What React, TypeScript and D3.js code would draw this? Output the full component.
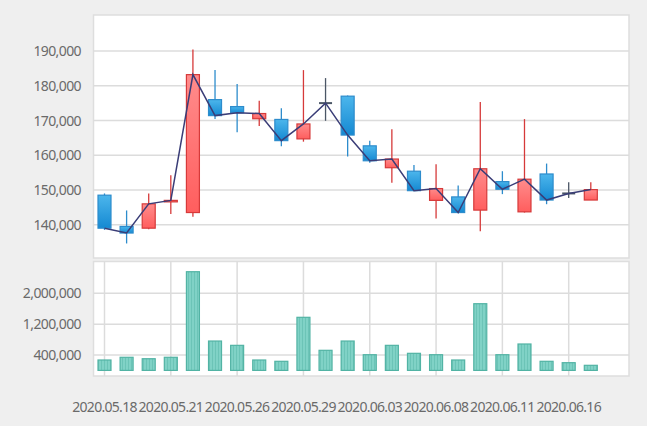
import React from "react";
import * as d3 from "d3";

const dates = [
  "2020.05.18", "2020.05.19", "2020.05.20", "2020.05.21", "2020.05.22",
  "2020.05.25", "2020.05.26", "2020.05.27", "2020.05.28", "2020.05.29",
  "2020.06.01", "2020.06.02", "2020.06.03", "2020.06.04", "2020.06.05",
  "2020.06.08", "2020.06.09", "2020.06.10", "2020.06.11", "2020.06.12",
  "2020.06.15", "2020.06.16", "2020.06.17",
];
const openPrices = [148500, 139500, 139000, 146800, 143500, 176000, 174000, 170500, 170300, 164700, 175000, 177000, 162700, 156400, 155400, 147000, 148000, 144200, 152400, 143700, 154600, 149000, 147100];
const closePrices = [139000, 137600, 146000, 147000, 183200, 171400, 172200, 172000, 164200, 169000, 175000, 165800, 158400, 158900, 149800, 150400, 143500, 156100, 150200, 153100, 147100, 149000, 150100];
const highPrices = [149000, 144100, 149000, 154200, 190400, 184500, 180500, 175700, 173500, 184500, 182200, 177200, 164200, 167500, 157200, 157400, 151300, 175300, 155400, 170400, 157600, 152200, 152200];
const lowPrices = [138500, 134600, 138700, 143100, 142300, 170400, 166600, 168400, 162600, 163900, 169900, 159600, 157800, 152100, 149800, 141800, 143300, 138100, 148800, 143500, 145900, 147700, 147100];
const volumes = [270000, 340000, 303000, 340000, 2560000, 762000, 650000, 270000, 236000, 1377000, 521000, 762000, 407000, 650000, 443000, 407000, 270000, 1730000, 407000, 685000, 236000, 200000, 132000];

const priceTicks = [140000, 150000, 160000, 170000, 180000, 190000];
const volumeTicks = [400000, 1200000, 2000000];
const labelEvery = 3;

const W = 647;
const H = 426;
const panelL = 93.5;
const panelR = 629;
const topPanel = { y0: 15, y1: 258 };
const botPanel = { y0: 261.5, y1: 376 };

const FONT = "'Noto Sans', sans-serif";
const TEXT = "#6a6a6a";
const GRID = "#dcdcdc";

export default function App() {
  const x = d3.scaleLinear().domain([0, 21]).range([104.5, 568.7]);
  const y = d3.scaleLinear().domain([140000, 190000]).range([224.7, 51]);
  const yv = d3.scaleLinear().domain([0, 2000000]).range([370.4, 293.3]);
  const fmt = d3.format(",");
  const cw = 13;
  const bw = 13;

  const line = d3
    .line<number>()
    .x((_, i) => x(i))
    .y((d) => y(d));

  const labelIdx = dates.map((_, i) => i).filter((i) => i % labelEvery === 0);

  return (
    <svg
      width={W}
      height={H}
      style={{ position: "absolute", left: 0, top: 0, display: "block" }}
    >
      <defs>
        <linearGradient id="gRed" x1="0" y1="0" x2="0" y2="1">
          <stop offset="0" stopColor="#ff8c8c" />
          <stop offset="1" stopColor="#ff5e5e" />
        </linearGradient>
        <linearGradient id="gBlue" x1="0" y1="0" x2="0" y2="1">
          <stop offset="0" stopColor="#4cb6ec" />
          <stop offset="1" stopColor="#1589d2" />
        </linearGradient>
        <pattern id="stripe" width="3" height="4" patternUnits="userSpaceOnUse">
          <rect width="3" height="4" fill="#80d2c6" />
          <rect x="2" width="1" height="4" fill="#6cc4b7" />
        </pattern>
      </defs>
      <rect x={0} y={0} width={W} height={H} fill="#efefef" />

      {/* panels */}
      <rect
        x={panelL}
        y={topPanel.y0}
        width={panelR - panelL}
        height={topPanel.y1 - topPanel.y0}
        fill="#fff"
        stroke="#dedede"
        strokeWidth={1.5}
      />
      <rect
        x={panelL}
        y={botPanel.y0}
        width={panelR - panelL}
        height={botPanel.y1 - botPanel.y0}
        fill="#fff"
        stroke="#dedede"
        strokeWidth={1.5}
      />

      {/* price grid + labels */}
      {priceTicks.map((t) => (
        <g key={t}>
          <line x1={panelL} x2={panelR} y1={y(t)} y2={y(t)} stroke={GRID} strokeWidth={1.5} />
          <text
            x={81}
            y={y(t)}
            dy="0.36em"
            textAnchor="end"
            fontFamily={FONT}
            fontSize={14}
            letterSpacing={-0.6}
            fill={TEXT}
          >
            {fmt(t)}
          </text>
        </g>
      ))}

      {/* volume grid */}
      {labelIdx.map((i) => (
        <line
          key={"vg" + i}
          x1={x(i)}
          x2={x(i)}
          y1={botPanel.y0}
          y2={botPanel.y1}
          stroke={GRID}
          strokeWidth={1.5}
        />
      ))}
      {volumeTicks.map((t) => (
        <g key={t}>
          <line x1={panelL} x2={panelR} y1={yv(t)} y2={yv(t)} stroke={GRID} strokeWidth={1.5} />
          <text
            x={81}
            y={yv(t)}
            dy="0.36em"
            textAnchor="end"
            fontFamily={FONT}
            fontSize={14}
            letterSpacing={-0.6}
            fill={TEXT}
          >
            {fmt(t)}
          </text>
        </g>
      ))}

      {/* candles */}
      {dates.map((d, i) => {
        const o = openPrices[i];
        const c = closePrices[i];
        const up = c > o;
        const doji = c === o;
        const stroke = doji ? "#4b5666" : up ? "#d63a3a" : "#2d8ccc";
        const fill = up ? "url(#gRed)" : "url(#gBlue)";
        const top = y(Math.max(o, c));
        const bot = y(Math.min(o, c));
        const cx = x(i);
        return (
          <g key={d}>
            <line
              x1={cx}
              x2={cx}
              y1={y(highPrices[i])}
              y2={y(lowPrices[i])}
              stroke={stroke}
              strokeWidth={1.3}
            />
            {doji ? (
              <line x1={cx - cw / 2} x2={cx + cw / 2} y1={top} y2={top} stroke={stroke} strokeWidth={2} />
            ) : (
              <rect
                x={cx - cw / 2}
                y={top}
                width={cw}
                height={Math.max(bot - top, 1.5)}
                fill={fill}
                stroke={stroke}
                strokeWidth={1.2}
              />
            )}
          </g>
        );
      })}

      {/* close line */}
      <path d={line(closePrices) || ""} fill="none" stroke="#3a3d77" strokeWidth={1.5} />

      {/* volume bars */}
      {volumes.map((v, i) => (
        <rect
          key={"v" + i}
          x={x(i) - bw / 2}
          y={yv(v)}
          width={bw}
          height={yv(0) - yv(v)}
          fill="url(#stripe)"
          stroke="#52b3a4"
          strokeWidth={1.2}
        />
      ))}

      {/* x labels */}
      {labelIdx.map((i) => (
        <text
          key={"xl" + i}
          x={x(i)}
          y={412}
          textAnchor="middle"
          fontFamily={FONT}
          fontSize={14}
          letterSpacing={-0.7}
          fill={TEXT}
        >
          {dates[i]}
        </text>
      ))}
    </svg>
  );
}
